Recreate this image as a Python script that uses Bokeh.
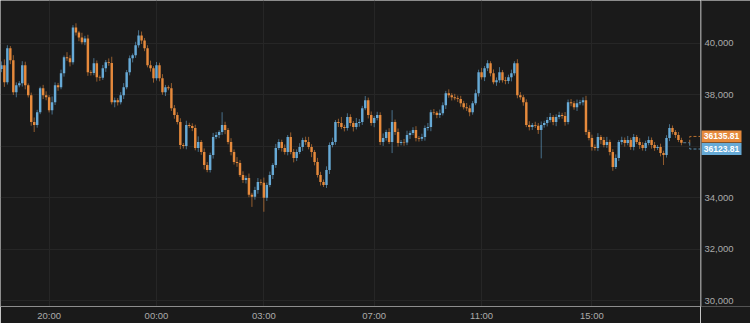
from bokeh.plotting import figure
from bokeh.layouts import row
from bokeh.models import Range1d, FixedTicker, ColumnDataSource, Grid, Span
from bokeh.core.properties import value
from bokeh.embed import file_html
from bokeh.resources import INLINE

# ---------------- data ----------------
first_open = 39000
closes = [
    39147, 38488, 39806, 39341, 38101, 38372, 38450, 39147, 38372, 37985,
    36938, 36822, 37326, 38256, 37985, 37907, 37403, 37714, 38372, 38295,
    38837, 39457, 39419, 39264, 40620, 40426, 40232, 40039, 40194, 38876,
    38850, 39225, 38682, 38660, 39031, 39264, 39240, 37714, 37791, 37714,
    37985, 38295, 38876, 39419, 39535, 39922, 40310,
    40116, 39806, 39147, 39031, 38643, 39147, 38643, 38101, 38295, 38256,
    37481, 37210, 36938, 36046, 36010, 36822, 36790, 36706, 35930, 36163,
    35775, 35271, 35078, 35659, 36357, 36434, 36550, 36822, 36628, 36163,
    35775, 35387, 35349, 34884, 34690, 34768, 34108, 34031, 34302, 34613,
    34580, 33992, 34496, 34884, 35271, 35930, 36163,
    35930, 35775, 36357, 35775, 35542, 35775, 35969, 36240, 36163, 35969,
    35775, 35387, 34884, 34613, 34496, 35078, 36046, 36163, 36938, 36899,
    36744, 36706, 37132, 36899, 36744, 36899, 36938, 37481, 37791, 37210,
    36899, 37093, 37210, 36163, 36318, 36550, 36163, 36938, 36550, 36124,
    36163, 36140, 36434, 36512, 36628, 36318, 36290,
    36357, 36706, 36744, 37326, 37300, 37210, 37287, 37597, 38062, 37985,
    37907, 37868, 37840, 37675, 37520, 37481, 37326, 37675, 38062, 38876,
    38682, 39031, 39225, 38837, 38488, 38566, 38876, 38566, 38540, 38682,
    38837, 39225, 37985, 37907, 37714, 36822, 36744, 36822, 36800, 36628,
    36822, 36899, 37016, 37132, 36938, 37132, 37210,
    37180, 36938, 37714, 37675, 37520, 37675, 37714, 37791, 36550, 36318,
    35969, 35930, 36357, 36240, 36046, 36163, 35775, 35194, 35542, 36163,
    36240, 36124, 36240, 35969, 36357, 36163, 36046, 35930, 36124, 36240,
    36046, 35930, 35969, 35736, 35659, 36318, 36706, 36550, 36434, 36240,
    36135.81,
]
upper_wick = [
    150, 230, 120, 90, 200, 110, 80, 160, 140, 70,
    100, 180, 90, 60, 130, 150, 80, 220, 110, 90,
    140, 70, 200, 120, 90, 160, 60, 180, 100, 140,
    80, 200, 110, 70, 130, 90, 150, 240, 100, 80,
    120, 160, 90, 110, 70, 140, 200, 150, 90, 120,
    180, 80, 130, 100, 160, 90, 70, 200, 120, 110,
    150, 80, 170, 90, 100, 130, 220, 80, 140, 110,
    90, 160, 120, 70, 500, 130, 80, 150, 100, 190,
    110, 140, 90, 170, 80, 120, 150, 100, 200, 90,
    130, 70, 160, 110, 90, 140, 80, 180, 120, 100,
    150, 90, 130, 200, 110, 80, 160, 120, 90, 140,
    100, 170, 80, 130, 240, 90, 150, 110, 80, 200,
    120, 90, 160, 100, 140, 80, 130, 110, 180, 90,
    150, 465, 100, 140, 80, 120, 170, 90, 110, 150,
    80, 130, 100, 160, 90, 120, 70, 140, 110, 90,
    150, 80, 130, 100, 120, 90, 160, 110, 80, 140,
    100, 170, 90, 120, 80, 150, 110, 200, 90, 130,
    100, 140, 80, 160, 120, 90, 110, 150, 80, 130,
    100, 140, 90, 120, 160, 80, 110, 130, 90, 150,
    100, 120, 80, 140, 90, 110, 170, 90, 130, 100,
    150, 80, 120, 200, 90, 110, 140, 80, 130, 100,
    160, 90, 120, 80, 150, 110, 90, 140, 100, 120,
    80, 130, 90, 110, 150, 100, 80, 120, 90,
]
lower_wick = [
    120, 180, 90, 150, 110, 200, 80, 130, 160, 90,
    140, 270, 100, 80, 150, 120, 90, 170, 110, 140,
    80, 130, 100, 160, 90, 120, 150, 80, 110, 140,
    100, 90, 170, 120, 80, 140, 110, 90, 200, 130,
    90, 150, 80, 120, 160, 100, 90, 140, 110, 80,
    130, 170, 90, 120, 100, 150, 80, 110, 140, 90,
    160, 100, 130, 80, 120, 90, 150, 110, 170, 90,
    100, 140, 80, 120, 110, 160, 90, 130, 100, 150,
    80, 120, 140, 90, 390, 110, 150, 100, 540, 120,
    90, 160, 110, 80, 140, 100, 130, 90, 170, 120,
    80, 150, 110, 90, 200, 130, 100, 140, 80, 120,
    160, 90, 110, 150, 80, 130, 100, 120, 170, 90,
    140, 110, 80, 130, 100, 160, 90, 120, 150, 100,
    80, 430, 110, 140, 90, 120, 100, 150, 80, 130,
    110, 90, 140, 100, 160, 80, 120, 110, 90, 150,
    100, 130, 80, 120, 140, 90, 110, 160, 100, 80,
    130, 90, 150, 110, 120, 80, 140, 100, 90, 130,
    110, 160, 90, 120, 100, 140, 80, 130, 110, 90,
    150, 1100, 100, 130, 90, 120, 160, 80, 110, 140,
    90, 120, 100, 150, 80, 130, 110, 90, 140, 100,
    120, 160, 90, 110, 130, 150, 80, 120, 100, 140,
    90, 110, 130, 80, 150, 100, 120, 90, 140, 110,
    80, 130, 390, 100, 120, 90, 110, 80, 100,
]
last_ask = 36135.81
last_bid = 36123.81

x_tick_index = [16, 52, 88, 125, 161, 198]
x_tick_labels = ["20:00", "00:00", "03:00", "07:00", "11:00", "15:00"]
y_ticks = [30000, 32000, 34000, 36000, 38000, 40000]

# ---------------- styling ----------------
BG = "#1a1a1a"
GRID = "#262626"
AXIS = "#8e8e8e"
LABEL = "#ababab"
UP = "#67aad6"
DOWN = "#e68a3c"
FONT = "Liberation Sans"

n = len(closes)
opens = [first_open] + closes[:-1]
idx = list(range(n))
tops = [max(o, c) for o, c in zip(opens, closes)]
bots = [min(o, c) for o, c in zip(opens, closes)]
highs = [t + u for t, u in zip(tops, upper_wick)]
lows = [b - d for b, d in zip(bots, lower_wick)]
colors = [UP if c >= o else DOWN for o, c in zip(opens, closes)]

src = ColumnDataSource(dict(x=idx, top=tops, bottom=bots, high=highs, low=lows, color=colors))

x_start, x_end = -0.3, 234.4
y_range = Range1d(29767, 41667)
frame_h = 307
du = (y_range.end - y_range.start) / frame_h   # price units per pixel

# ---------------- main chart ----------------
p = figure(width=700, height=323, output_backend="svg", toolbar_location=None,
           x_range=Range1d(x_start, x_end), y_range=y_range,
           y_axis_location=None,
           min_border_left=0, min_border_top=0, min_border_right=0, min_border_bottom=16)
p.background_fill_color = BG
p.border_fill_color = BG
p.outline_line_color = None
p.add_layout(Grid(dimension=1, ticker=FixedTicker(ticks=y_ticks), grid_line_color=GRID))

p.segment(x0="x", y0="low", x1="x", y1="high", source=src, line_color="color",
          line_alpha=0.6, line_width=1)
p.vbar(x="x", width=0.82, top="top", bottom="bottom", source=src,
       fill_color="color", line_color=None)

# last price bracket
ask_lvl = last_ask + 6.3 * du
bid_lvl = last_bid - 6.0 * du
xb = n + 1.8
p.line([n - 0.4, xb], [last_ask, last_ask], line_color="#5a7f98", line_dash="3 2", line_width=1)
p.line([xb, xb, x_end], [last_ask, ask_lvl, ask_lvl], line_color="#b8702f", line_dash="3 2", line_width=1)
p.line([xb, xb, x_end], [last_ask, bid_lvl, bid_lvl], line_color="#5a8fb0", line_dash="3 2", line_width=1)

xa = p.xaxis[0]
xa.ticker = FixedTicker(ticks=x_tick_index)
xa.major_label_overrides = {t: l for t, l in zip(x_tick_index, x_tick_labels)}
xa.axis_line_color = AXIS
xa.major_tick_line_color = None
xa.minor_tick_line_color = None
xa.major_tick_in = 0
xa.major_tick_out = 0
xa.major_label_text_color = LABEL
xa.major_label_text_font = FONT
xa.major_label_text_font_size = "9.5px"
xa.major_label_standoff = 3
p.xgrid.grid_line_color = GRID

# ---------------- right price scale ----------------
s = figure(width=50, height=323, output_backend="svg", toolbar_location=None,
           x_range=Range1d(0, 50), y_range=y_range,
           x_axis_location=None, y_axis_location=None,
           min_border_left=0, min_border_top=0, min_border_right=0, min_border_bottom=16)
s.background_fill_color = BG
s.border_fill_color = BG
s.outline_line_color = None
s.xgrid.visible = False
s.ygrid.visible = False
s.add_layout(Span(location=0.5, dimension="height", line_color=AXIS, line_width=1))

s.text(x=[4] * len(y_ticks), y=y_ticks, text=[f"{t:,}" for t in y_ticks],
       text_baseline="middle", text_align="left", text_font=value(FONT),
       text_font_size="9.5px", text_color=LABEL)

box_src = ColumnDataSource(dict(
    top=[ask_lvl + 6 * du, bid_lvl + 6 * du],
    bottom=[ask_lvl - 6 * du, bid_lvl - 6 * du],
    y=[ask_lvl, bid_lvl],
    color=[DOWN, UP],
    label=[f"{last_ask:.2f}", f"{last_bid:.2f}"],
))
s.quad(left=1, right=41, top="top", bottom="bottom", fill_color="color", line_color=None, source=box_src)
s.text(x=21, y="y", text="label", text_align="center", text_baseline="middle",
       text_font=value(FONT), text_font_size="8.5px", text_font_style="bold",
       text_color="white", source=box_src)

html = file_html(row(p, s), INLINE)
html = html.replace("<body>", '<body style="margin:0;background-color:#1a1a1a;">', 1)
open("out.html", "w").write(html)
